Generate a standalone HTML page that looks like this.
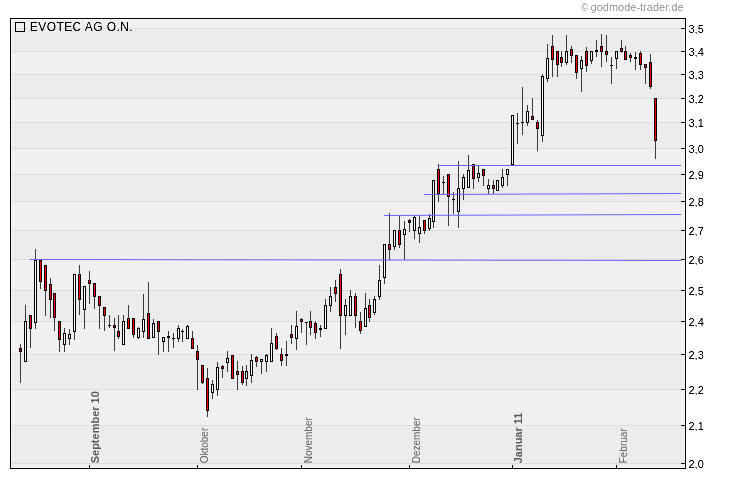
<!DOCTYPE html>
<html><head><meta charset="utf-8"><title>EVOTEC AG O.N.</title>
<style>html,body{margin:0;padding:0;background:#fff;width:730px;height:481px;overflow:hidden}svg{display:block}</style>
</head><body>
<svg width="730" height="481" viewBox="0 0 730 481" shape-rendering="crispEdges">
<rect x="0" y="0" width="730" height="481" fill="#ffffff"/>
<rect x="10" y="18" width="676" height="451" fill="#000"/>
<rect x="11" y="19" width="674" height="449" fill="#f6f6f6"/>
<rect x="12" y="20" width="672" height="8" fill="#f0f0f0"/>
<rect x="12" y="28" width="672" height="23" fill="#ececec"/>
<rect x="12" y="51" width="672" height="23" fill="#f0f0f0"/>
<rect x="12" y="74" width="672" height="24" fill="#ececec"/>
<rect x="12" y="98" width="672" height="24" fill="#f0f0f0"/>
<rect x="12" y="122" width="672" height="26" fill="#ececec"/>
<rect x="12" y="148" width="672" height="26" fill="#f0f0f0"/>
<rect x="12" y="174" width="672" height="27" fill="#ececec"/>
<rect x="12" y="201" width="672" height="29" fill="#f0f0f0"/>
<rect x="12" y="230" width="672" height="29" fill="#ececec"/>
<rect x="12" y="259" width="672" height="31" fill="#f0f0f0"/>
<rect x="12" y="290" width="672" height="31" fill="#ececec"/>
<rect x="12" y="321" width="672" height="33" fill="#f0f0f0"/>
<rect x="12" y="354" width="672" height="35" fill="#ececec"/>
<rect x="12" y="389" width="672" height="36" fill="#f0f0f0"/>
<rect x="12" y="425" width="672" height="38" fill="#ececec"/>
<rect x="12" y="463" width="672" height="4" fill="#f0f0f0"/>
<rect x="12" y="28" width="669" height="1" fill="#dcdcdc"/>
<rect x="12" y="51" width="669" height="1" fill="#dcdcdc"/>
<rect x="12" y="74" width="669" height="1" fill="#dcdcdc"/>
<rect x="12" y="98" width="669" height="1" fill="#dcdcdc"/>
<rect x="12" y="122" width="669" height="1" fill="#dcdcdc"/>
<rect x="12" y="148" width="669" height="1" fill="#dcdcdc"/>
<rect x="12" y="174" width="669" height="1" fill="#dcdcdc"/>
<rect x="12" y="201" width="669" height="1" fill="#dcdcdc"/>
<rect x="12" y="230" width="669" height="1" fill="#dcdcdc"/>
<rect x="12" y="259" width="669" height="1" fill="#dcdcdc"/>
<rect x="12" y="290" width="669" height="1" fill="#dcdcdc"/>
<rect x="12" y="321" width="669" height="1" fill="#dcdcdc"/>
<rect x="12" y="354" width="669" height="1" fill="#dcdcdc"/>
<rect x="12" y="389" width="669" height="1" fill="#dcdcdc"/>
<rect x="12" y="425" width="669" height="1" fill="#dcdcdc"/>
<rect x="12" y="463" width="669" height="1" fill="#dcdcdc"/>
<rect x="681" y="28" width="4" height="1" fill="#000"/>
<rect x="681" y="51" width="4" height="1" fill="#000"/>
<rect x="681" y="74" width="4" height="1" fill="#000"/>
<rect x="681" y="98" width="4" height="1" fill="#000"/>
<rect x="681" y="122" width="4" height="1" fill="#000"/>
<rect x="681" y="148" width="4" height="1" fill="#000"/>
<rect x="681" y="174" width="4" height="1" fill="#000"/>
<rect x="681" y="201" width="4" height="1" fill="#000"/>
<rect x="681" y="230" width="4" height="1" fill="#000"/>
<rect x="681" y="259" width="4" height="1" fill="#000"/>
<rect x="681" y="290" width="4" height="1" fill="#000"/>
<rect x="681" y="321" width="4" height="1" fill="#000"/>
<rect x="681" y="354" width="4" height="1" fill="#000"/>
<rect x="681" y="389" width="4" height="1" fill="#000"/>
<rect x="681" y="425" width="4" height="1" fill="#000"/>
<rect x="681" y="463" width="4" height="1" fill="#000"/>
<rect x="89" y="465" width="1" height="3" fill="#000"/>
<rect x="197" y="465" width="1" height="3" fill="#000"/>
<rect x="301" y="465" width="1" height="3" fill="#000"/>
<rect x="409" y="465" width="1" height="3" fill="#000"/>
<rect x="512" y="465" width="1" height="3" fill="#000"/>
<rect x="616" y="465" width="1" height="3" fill="#000"/>
<rect x="20" y="344" width="1" height="4" fill="#3a3a3a"/>
<rect x="20" y="352" width="1" height="31" fill="#3a3a3a"/>
<rect x="19" y="348" width="3" height="4" fill="#000"/>
<rect x="20" y="349" width="1" height="2" fill="#ff0000"/>
<rect x="25" y="305" width="1" height="16" fill="#3a3a3a"/>
<rect x="24" y="321" width="3" height="41" fill="#000"/>
<rect x="25" y="322" width="1" height="39" fill="#ffffff"/>
<rect x="30" y="329" width="1" height="19" fill="#3a3a3a"/>
<rect x="29" y="315" width="3" height="14" fill="#000"/>
<rect x="30" y="316" width="1" height="12" fill="#ff0000"/>
<rect x="35" y="249" width="1" height="11" fill="#3a3a3a"/>
<rect x="35" y="323" width="1" height="6" fill="#3a3a3a"/>
<rect x="34" y="260" width="3" height="63" fill="#000"/>
<rect x="35" y="261" width="1" height="61" fill="#ffffff"/>
<rect x="40" y="282" width="1" height="7" fill="#3a3a3a"/>
<rect x="39" y="260" width="3" height="22" fill="#000"/>
<rect x="40" y="261" width="1" height="20" fill="#ff0000"/>
<rect x="45" y="291" width="1" height="25" fill="#3a3a3a"/>
<rect x="44" y="265" width="3" height="26" fill="#000"/>
<rect x="45" y="266" width="1" height="24" fill="#ff0000"/>
<rect x="50" y="278" width="1" height="6" fill="#3a3a3a"/>
<rect x="50" y="300" width="1" height="18" fill="#3a3a3a"/>
<rect x="49" y="284" width="3" height="16" fill="#000"/>
<rect x="50" y="285" width="1" height="14" fill="#ff0000"/>
<rect x="54" y="318" width="1" height="13" fill="#3a3a3a"/>
<rect x="53" y="293" width="3" height="25" fill="#000"/>
<rect x="54" y="294" width="1" height="23" fill="#ff0000"/>
<rect x="59" y="340" width="1" height="12" fill="#3a3a3a"/>
<rect x="58" y="321" width="3" height="19" fill="#000"/>
<rect x="59" y="322" width="1" height="17" fill="#ff0000"/>
<rect x="64" y="328" width="1" height="5" fill="#3a3a3a"/>
<rect x="64" y="345" width="1" height="7" fill="#3a3a3a"/>
<rect x="63" y="333" width="3" height="12" fill="#000"/>
<rect x="64" y="334" width="1" height="10" fill="#ffffff"/>
<rect x="69" y="329" width="1" height="5" fill="#3a3a3a"/>
<rect x="69" y="339" width="1" height="6" fill="#3a3a3a"/>
<rect x="68" y="334" width="3" height="5" fill="#000"/>
<rect x="69" y="335" width="1" height="3" fill="#ffffff"/>
<rect x="74" y="332" width="1" height="8" fill="#3a3a3a"/>
<rect x="73" y="274" width="3" height="58" fill="#000"/>
<rect x="74" y="275" width="1" height="56" fill="#ffffff"/>
<rect x="79" y="265" width="1" height="9" fill="#3a3a3a"/>
<rect x="79" y="300" width="1" height="15" fill="#3a3a3a"/>
<rect x="78" y="274" width="3" height="26" fill="#000"/>
<rect x="79" y="275" width="1" height="24" fill="#ff0000"/>
<rect x="84" y="310" width="1" height="19" fill="#3a3a3a"/>
<rect x="83" y="286" width="3" height="24" fill="#000"/>
<rect x="84" y="287" width="1" height="22" fill="#ffffff"/>
<rect x="89" y="271" width="1" height="9" fill="#3a3a3a"/>
<rect x="89" y="284" width="1" height="20" fill="#3a3a3a"/>
<rect x="88" y="280" width="3" height="4" fill="#000"/>
<rect x="89" y="281" width="1" height="2" fill="#ff0000"/>
<rect x="94" y="297" width="1" height="12" fill="#3a3a3a"/>
<rect x="93" y="283" width="3" height="14" fill="#000"/>
<rect x="94" y="284" width="1" height="12" fill="#ff0000"/>
<rect x="99" y="306" width="1" height="23" fill="#3a3a3a"/>
<rect x="98" y="296" width="3" height="10" fill="#000"/>
<rect x="99" y="297" width="1" height="8" fill="#ff0000"/>
<rect x="104" y="316" width="1" height="15" fill="#3a3a3a"/>
<rect x="103" y="307" width="3" height="9" fill="#000"/>
<rect x="104" y="308" width="1" height="7" fill="#ff0000"/>
<rect x="109" y="315" width="1" height="13" fill="#3a3a3a"/>
<rect x="108" y="325" width="3" height="1" fill="#000"/>
<rect x="114" y="318" width="1" height="7" fill="#3a3a3a"/>
<rect x="114" y="328" width="1" height="23" fill="#3a3a3a"/>
<rect x="113" y="325" width="3" height="3" fill="#000"/>
<rect x="114" y="326" width="1" height="1" fill="#ff0000"/>
<rect x="118" y="315" width="1" height="16" fill="#3a3a3a"/>
<rect x="118" y="337" width="1" height="2" fill="#3a3a3a"/>
<rect x="117" y="331" width="3" height="6" fill="#000"/>
<rect x="118" y="332" width="1" height="4" fill="#ff0000"/>
<rect x="123" y="315" width="1" height="6" fill="#3a3a3a"/>
<rect x="122" y="321" width="3" height="24" fill="#000"/>
<rect x="123" y="322" width="1" height="22" fill="#ffffff"/>
<rect x="128" y="305" width="1" height="13" fill="#3a3a3a"/>
<rect x="127" y="318" width="3" height="11" fill="#000"/>
<rect x="128" y="319" width="1" height="9" fill="#ff0000"/>
<rect x="133" y="335" width="1" height="3" fill="#3a3a3a"/>
<rect x="132" y="318" width="3" height="17" fill="#000"/>
<rect x="133" y="319" width="1" height="15" fill="#ff0000"/>
<rect x="138" y="327" width="1" height="1" fill="#3a3a3a"/>
<rect x="138" y="338" width="1" height="1" fill="#3a3a3a"/>
<rect x="137" y="328" width="3" height="10" fill="#000"/>
<rect x="138" y="329" width="1" height="8" fill="#ffffff"/>
<rect x="143" y="294" width="1" height="25" fill="#3a3a3a"/>
<rect x="143" y="332" width="1" height="6" fill="#3a3a3a"/>
<rect x="142" y="319" width="3" height="13" fill="#000"/>
<rect x="143" y="320" width="1" height="11" fill="#ffffff"/>
<rect x="148" y="282" width="1" height="31" fill="#3a3a3a"/>
<rect x="147" y="313" width="3" height="26" fill="#000"/>
<rect x="148" y="314" width="1" height="24" fill="#ff0000"/>
<rect x="153" y="319" width="1" height="4" fill="#3a3a3a"/>
<rect x="152" y="323" width="3" height="15" fill="#000"/>
<rect x="153" y="324" width="1" height="13" fill="#ffffff"/>
<rect x="158" y="332" width="1" height="23" fill="#3a3a3a"/>
<rect x="157" y="321" width="3" height="11" fill="#000"/>
<rect x="158" y="322" width="1" height="9" fill="#ff0000"/>
<rect x="163" y="342" width="1" height="10" fill="#3a3a3a"/>
<rect x="162" y="337" width="3" height="5" fill="#000"/>
<rect x="163" y="338" width="1" height="3" fill="#ffffff"/>
<rect x="168" y="331" width="1" height="5" fill="#3a3a3a"/>
<rect x="168" y="338" width="1" height="14" fill="#3a3a3a"/>
<rect x="167" y="336" width="3" height="2" fill="#000"/>
<rect x="173" y="333" width="1" height="15" fill="#3a3a3a"/>
<rect x="172" y="338" width="3" height="1" fill="#000"/>
<rect x="178" y="325" width="1" height="3" fill="#3a3a3a"/>
<rect x="178" y="339" width="1" height="3" fill="#3a3a3a"/>
<rect x="177" y="328" width="3" height="11" fill="#000"/>
<rect x="178" y="329" width="1" height="9" fill="#ffffff"/>
<rect x="182" y="329" width="1" height="13" fill="#3a3a3a"/>
<rect x="181" y="331" width="3" height="1" fill="#000"/>
<rect x="187" y="325" width="1" height="1" fill="#3a3a3a"/>
<rect x="186" y="326" width="3" height="13" fill="#000"/>
<rect x="187" y="327" width="1" height="11" fill="#ffffff"/>
<rect x="192" y="331" width="1" height="7" fill="#3a3a3a"/>
<rect x="191" y="338" width="3" height="11" fill="#000"/>
<rect x="192" y="339" width="1" height="9" fill="#ff0000"/>
<rect x="197" y="345" width="1" height="6" fill="#3a3a3a"/>
<rect x="197" y="360" width="1" height="30" fill="#3a3a3a"/>
<rect x="196" y="351" width="3" height="9" fill="#000"/>
<rect x="197" y="352" width="1" height="7" fill="#ff0000"/>
<rect x="202" y="383" width="1" height="1" fill="#3a3a3a"/>
<rect x="201" y="365" width="3" height="18" fill="#000"/>
<rect x="202" y="366" width="1" height="16" fill="#ff0000"/>
<rect x="207" y="368" width="1" height="10" fill="#3a3a3a"/>
<rect x="207" y="411" width="1" height="6" fill="#3a3a3a"/>
<rect x="206" y="378" width="3" height="33" fill="#000"/>
<rect x="207" y="379" width="1" height="31" fill="#ff0000"/>
<rect x="212" y="380" width="1" height="4" fill="#3a3a3a"/>
<rect x="212" y="393" width="1" height="6" fill="#3a3a3a"/>
<rect x="211" y="384" width="3" height="9" fill="#000"/>
<rect x="212" y="385" width="1" height="7" fill="#ffffff"/>
<rect x="217" y="362" width="1" height="5" fill="#3a3a3a"/>
<rect x="217" y="390" width="1" height="6" fill="#3a3a3a"/>
<rect x="216" y="367" width="3" height="23" fill="#000"/>
<rect x="217" y="368" width="1" height="21" fill="#ffffff"/>
<rect x="222" y="365" width="1" height="1" fill="#3a3a3a"/>
<rect x="222" y="369" width="1" height="9" fill="#3a3a3a"/>
<rect x="221" y="366" width="3" height="3" fill="#000"/>
<rect x="222" y="367" width="1" height="1" fill="#ff0000"/>
<rect x="227" y="351" width="1" height="7" fill="#3a3a3a"/>
<rect x="227" y="363" width="1" height="9" fill="#3a3a3a"/>
<rect x="226" y="358" width="3" height="5" fill="#000"/>
<rect x="227" y="359" width="1" height="3" fill="#ffffff"/>
<rect x="231" y="355" width="3" height="24" fill="#000"/>
<rect x="232" y="356" width="1" height="22" fill="#ff0000"/>
<rect x="237" y="361" width="1" height="10" fill="#3a3a3a"/>
<rect x="237" y="375" width="1" height="15" fill="#3a3a3a"/>
<rect x="236" y="371" width="3" height="4" fill="#000"/>
<rect x="237" y="372" width="1" height="2" fill="#ff0000"/>
<rect x="242" y="366" width="1" height="5" fill="#3a3a3a"/>
<rect x="242" y="383" width="1" height="2" fill="#3a3a3a"/>
<rect x="241" y="371" width="3" height="12" fill="#000"/>
<rect x="242" y="372" width="1" height="10" fill="#ff0000"/>
<rect x="246" y="365" width="1" height="6" fill="#3a3a3a"/>
<rect x="246" y="379" width="1" height="7" fill="#3a3a3a"/>
<rect x="245" y="371" width="3" height="8" fill="#000"/>
<rect x="246" y="372" width="1" height="6" fill="#ffffff"/>
<rect x="251" y="354" width="1" height="6" fill="#3a3a3a"/>
<rect x="251" y="376" width="1" height="7" fill="#3a3a3a"/>
<rect x="250" y="360" width="3" height="16" fill="#000"/>
<rect x="251" y="361" width="1" height="14" fill="#ffffff"/>
<rect x="256" y="356" width="1" height="1" fill="#3a3a3a"/>
<rect x="256" y="362" width="1" height="5" fill="#3a3a3a"/>
<rect x="255" y="357" width="3" height="5" fill="#000"/>
<rect x="256" y="358" width="1" height="3" fill="#ff0000"/>
<rect x="261" y="362" width="1" height="12" fill="#3a3a3a"/>
<rect x="260" y="359" width="3" height="3" fill="#000"/>
<rect x="261" y="360" width="1" height="1" fill="#ffffff"/>
<rect x="266" y="354" width="1" height="1" fill="#3a3a3a"/>
<rect x="266" y="362" width="1" height="10" fill="#3a3a3a"/>
<rect x="265" y="355" width="3" height="7" fill="#000"/>
<rect x="266" y="356" width="1" height="5" fill="#ffffff"/>
<rect x="271" y="328" width="1" height="15" fill="#3a3a3a"/>
<rect x="270" y="343" width="3" height="19" fill="#000"/>
<rect x="271" y="344" width="1" height="17" fill="#ffffff"/>
<rect x="276" y="333" width="1" height="3" fill="#3a3a3a"/>
<rect x="276" y="349" width="1" height="1" fill="#3a3a3a"/>
<rect x="275" y="336" width="3" height="13" fill="#000"/>
<rect x="276" y="337" width="1" height="11" fill="#ff0000"/>
<rect x="281" y="348" width="1" height="6" fill="#3a3a3a"/>
<rect x="281" y="361" width="1" height="5" fill="#3a3a3a"/>
<rect x="280" y="354" width="3" height="7" fill="#000"/>
<rect x="281" y="355" width="1" height="5" fill="#ff0000"/>
<rect x="286" y="341" width="1" height="13" fill="#3a3a3a"/>
<rect x="286" y="356" width="1" height="10" fill="#3a3a3a"/>
<rect x="285" y="354" width="3" height="2" fill="#000"/>
<rect x="291" y="325" width="1" height="9" fill="#3a3a3a"/>
<rect x="291" y="338" width="1" height="6" fill="#3a3a3a"/>
<rect x="290" y="334" width="3" height="4" fill="#000"/>
<rect x="291" y="335" width="1" height="2" fill="#ff0000"/>
<rect x="296" y="311" width="1" height="15" fill="#3a3a3a"/>
<rect x="296" y="339" width="1" height="11" fill="#3a3a3a"/>
<rect x="295" y="326" width="3" height="13" fill="#000"/>
<rect x="296" y="327" width="1" height="11" fill="#ffffff"/>
<rect x="301" y="318" width="1" height="1" fill="#3a3a3a"/>
<rect x="301" y="322" width="1" height="11" fill="#3a3a3a"/>
<rect x="300" y="319" width="3" height="3" fill="#000"/>
<rect x="301" y="320" width="1" height="1" fill="#ff0000"/>
<rect x="306" y="322" width="1" height="23" fill="#3a3a3a"/>
<rect x="305" y="322" width="3" height="1" fill="#000"/>
<rect x="310" y="311" width="1" height="10" fill="#3a3a3a"/>
<rect x="310" y="328" width="1" height="7" fill="#3a3a3a"/>
<rect x="309" y="321" width="3" height="7" fill="#000"/>
<rect x="310" y="322" width="1" height="5" fill="#ff0000"/>
<rect x="315" y="321" width="1" height="2" fill="#3a3a3a"/>
<rect x="315" y="333" width="1" height="6" fill="#3a3a3a"/>
<rect x="314" y="323" width="3" height="10" fill="#000"/>
<rect x="315" y="324" width="1" height="8" fill="#ff0000"/>
<rect x="320" y="325" width="1" height="3" fill="#3a3a3a"/>
<rect x="320" y="330" width="1" height="7" fill="#3a3a3a"/>
<rect x="319" y="328" width="3" height="2" fill="#000"/>
<rect x="325" y="299" width="1" height="6" fill="#3a3a3a"/>
<rect x="324" y="305" width="3" height="24" fill="#000"/>
<rect x="325" y="306" width="1" height="22" fill="#ffffff"/>
<rect x="330" y="287" width="1" height="9" fill="#3a3a3a"/>
<rect x="330" y="306" width="1" height="6" fill="#3a3a3a"/>
<rect x="329" y="296" width="3" height="10" fill="#000"/>
<rect x="330" y="297" width="1" height="8" fill="#ffffff"/>
<rect x="335" y="280" width="1" height="7" fill="#3a3a3a"/>
<rect x="335" y="294" width="1" height="8" fill="#3a3a3a"/>
<rect x="334" y="287" width="3" height="7" fill="#000"/>
<rect x="335" y="288" width="1" height="5" fill="#ff0000"/>
<rect x="340" y="269" width="1" height="5" fill="#3a3a3a"/>
<rect x="340" y="316" width="1" height="33" fill="#3a3a3a"/>
<rect x="339" y="274" width="3" height="42" fill="#000"/>
<rect x="340" y="275" width="1" height="40" fill="#ff0000"/>
<rect x="345" y="299" width="1" height="6" fill="#3a3a3a"/>
<rect x="345" y="316" width="1" height="19" fill="#3a3a3a"/>
<rect x="344" y="305" width="3" height="11" fill="#000"/>
<rect x="345" y="306" width="1" height="9" fill="#ffffff"/>
<rect x="350" y="290" width="1" height="6" fill="#3a3a3a"/>
<rect x="349" y="296" width="3" height="20" fill="#000"/>
<rect x="350" y="297" width="1" height="18" fill="#ffffff"/>
<rect x="355" y="293" width="1" height="3" fill="#3a3a3a"/>
<rect x="355" y="316" width="1" height="12" fill="#3a3a3a"/>
<rect x="354" y="296" width="3" height="20" fill="#000"/>
<rect x="355" y="297" width="1" height="18" fill="#ff0000"/>
<rect x="360" y="312" width="1" height="9" fill="#3a3a3a"/>
<rect x="360" y="331" width="1" height="3" fill="#3a3a3a"/>
<rect x="359" y="321" width="3" height="10" fill="#000"/>
<rect x="360" y="322" width="1" height="8" fill="#ff0000"/>
<rect x="365" y="293" width="1" height="15" fill="#3a3a3a"/>
<rect x="364" y="308" width="3" height="19" fill="#000"/>
<rect x="365" y="309" width="1" height="17" fill="#ffffff"/>
<rect x="369" y="299" width="1" height="6" fill="#3a3a3a"/>
<rect x="369" y="318" width="1" height="4" fill="#3a3a3a"/>
<rect x="368" y="305" width="3" height="13" fill="#000"/>
<rect x="369" y="306" width="1" height="11" fill="#ff0000"/>
<rect x="374" y="296" width="1" height="3" fill="#3a3a3a"/>
<rect x="374" y="313" width="1" height="2" fill="#3a3a3a"/>
<rect x="373" y="299" width="3" height="14" fill="#000"/>
<rect x="374" y="300" width="1" height="12" fill="#ffffff"/>
<rect x="379" y="265" width="1" height="15" fill="#3a3a3a"/>
<rect x="379" y="297" width="1" height="3" fill="#3a3a3a"/>
<rect x="378" y="280" width="3" height="17" fill="#000"/>
<rect x="379" y="281" width="1" height="15" fill="#ffffff"/>
<rect x="384" y="278" width="1" height="6" fill="#3a3a3a"/>
<rect x="383" y="244" width="3" height="34" fill="#000"/>
<rect x="384" y="245" width="1" height="32" fill="#ffffff"/>
<rect x="389" y="213" width="1" height="31" fill="#3a3a3a"/>
<rect x="389" y="250" width="1" height="10" fill="#3a3a3a"/>
<rect x="388" y="244" width="3" height="6" fill="#000"/>
<rect x="389" y="245" width="1" height="4" fill="#ff0000"/>
<rect x="394" y="247" width="1" height="3" fill="#3a3a3a"/>
<rect x="393" y="230" width="3" height="17" fill="#000"/>
<rect x="394" y="231" width="1" height="15" fill="#ffffff"/>
<rect x="399" y="216" width="1" height="14" fill="#3a3a3a"/>
<rect x="399" y="245" width="1" height="3" fill="#3a3a3a"/>
<rect x="398" y="230" width="3" height="15" fill="#000"/>
<rect x="399" y="231" width="1" height="13" fill="#ff0000"/>
<rect x="404" y="221" width="1" height="8" fill="#3a3a3a"/>
<rect x="404" y="235" width="1" height="25" fill="#3a3a3a"/>
<rect x="403" y="229" width="3" height="6" fill="#000"/>
<rect x="404" y="230" width="1" height="4" fill="#ffffff"/>
<rect x="409" y="219" width="1" height="1" fill="#3a3a3a"/>
<rect x="409" y="223" width="1" height="9" fill="#3a3a3a"/>
<rect x="408" y="220" width="3" height="3" fill="#000"/>
<rect x="409" y="221" width="1" height="1" fill="#ff0000"/>
<rect x="414" y="216" width="1" height="1" fill="#3a3a3a"/>
<rect x="414" y="231" width="1" height="8" fill="#3a3a3a"/>
<rect x="413" y="217" width="3" height="14" fill="#000"/>
<rect x="414" y="218" width="1" height="12" fill="#ffffff"/>
<rect x="419" y="216" width="1" height="11" fill="#3a3a3a"/>
<rect x="419" y="234" width="1" height="9" fill="#3a3a3a"/>
<rect x="418" y="227" width="3" height="7" fill="#000"/>
<rect x="419" y="228" width="1" height="5" fill="#ffffff"/>
<rect x="424" y="231" width="1" height="3" fill="#3a3a3a"/>
<rect x="423" y="220" width="3" height="11" fill="#000"/>
<rect x="424" y="221" width="1" height="9" fill="#ff0000"/>
<rect x="429" y="214" width="1" height="4" fill="#3a3a3a"/>
<rect x="429" y="229" width="1" height="2" fill="#3a3a3a"/>
<rect x="428" y="218" width="3" height="11" fill="#000"/>
<rect x="429" y="219" width="1" height="9" fill="#ffffff"/>
<rect x="433" y="222" width="1" height="6" fill="#3a3a3a"/>
<rect x="432" y="180" width="3" height="42" fill="#000"/>
<rect x="433" y="181" width="1" height="40" fill="#ffffff"/>
<rect x="438" y="164" width="1" height="5" fill="#3a3a3a"/>
<rect x="438" y="194" width="1" height="8" fill="#3a3a3a"/>
<rect x="437" y="169" width="3" height="25" fill="#000"/>
<rect x="438" y="170" width="1" height="23" fill="#ff0000"/>
<rect x="443" y="176" width="1" height="18" fill="#3a3a3a"/>
<rect x="442" y="182" width="3" height="1" fill="#000"/>
<rect x="448" y="197" width="1" height="29" fill="#3a3a3a"/>
<rect x="447" y="174" width="3" height="23" fill="#000"/>
<rect x="448" y="175" width="1" height="21" fill="#ff0000"/>
<rect x="453" y="192" width="1" height="22" fill="#3a3a3a"/>
<rect x="452" y="199" width="3" height="1" fill="#000"/>
<rect x="458" y="161" width="1" height="27" fill="#3a3a3a"/>
<rect x="458" y="212" width="1" height="16" fill="#3a3a3a"/>
<rect x="457" y="188" width="3" height="24" fill="#000"/>
<rect x="458" y="189" width="1" height="22" fill="#ffffff"/>
<rect x="463" y="174" width="1" height="3" fill="#3a3a3a"/>
<rect x="463" y="189" width="1" height="11" fill="#3a3a3a"/>
<rect x="462" y="177" width="3" height="12" fill="#000"/>
<rect x="463" y="178" width="1" height="10" fill="#ffffff"/>
<rect x="468" y="155" width="1" height="15" fill="#3a3a3a"/>
<rect x="467" y="170" width="3" height="18" fill="#000"/>
<rect x="468" y="171" width="1" height="16" fill="#ffffff"/>
<rect x="473" y="179" width="1" height="10" fill="#3a3a3a"/>
<rect x="472" y="164" width="3" height="15" fill="#000"/>
<rect x="473" y="165" width="1" height="13" fill="#ff0000"/>
<rect x="478" y="166" width="1" height="7" fill="#3a3a3a"/>
<rect x="478" y="178" width="1" height="4" fill="#3a3a3a"/>
<rect x="477" y="173" width="3" height="5" fill="#000"/>
<rect x="478" y="174" width="1" height="3" fill="#ffffff"/>
<rect x="483" y="176" width="1" height="10" fill="#3a3a3a"/>
<rect x="482" y="169" width="3" height="7" fill="#000"/>
<rect x="483" y="170" width="1" height="5" fill="#ff0000"/>
<rect x="488" y="179" width="1" height="6" fill="#3a3a3a"/>
<rect x="488" y="189" width="1" height="5" fill="#3a3a3a"/>
<rect x="487" y="185" width="3" height="4" fill="#000"/>
<rect x="488" y="186" width="1" height="2" fill="#ffffff"/>
<rect x="493" y="180" width="1" height="5" fill="#3a3a3a"/>
<rect x="493" y="189" width="1" height="5" fill="#3a3a3a"/>
<rect x="492" y="185" width="3" height="4" fill="#000"/>
<rect x="493" y="186" width="1" height="2" fill="#ff0000"/>
<rect x="496" y="180" width="3" height="11" fill="#000"/>
<rect x="497" y="181" width="1" height="9" fill="#ffffff"/>
<rect x="502" y="169" width="1" height="8" fill="#3a3a3a"/>
<rect x="502" y="186" width="1" height="2" fill="#3a3a3a"/>
<rect x="501" y="177" width="3" height="9" fill="#000"/>
<rect x="502" y="178" width="1" height="7" fill="#ffffff"/>
<rect x="507" y="175" width="1" height="11" fill="#3a3a3a"/>
<rect x="506" y="169" width="3" height="6" fill="#000"/>
<rect x="507" y="170" width="1" height="4" fill="#ffffff"/>
<rect x="511" y="115" width="3" height="50" fill="#000"/>
<rect x="512" y="116" width="1" height="48" fill="#ffffff"/>
<rect x="517" y="113" width="1" height="31" fill="#3a3a3a"/>
<rect x="516" y="123" width="3" height="1" fill="#000"/>
<rect x="522" y="87" width="1" height="48" fill="#3a3a3a"/>
<rect x="521" y="122" width="3" height="1" fill="#000"/>
<rect x="527" y="105" width="1" height="6" fill="#3a3a3a"/>
<rect x="527" y="123" width="1" height="3" fill="#3a3a3a"/>
<rect x="526" y="111" width="3" height="12" fill="#000"/>
<rect x="527" y="112" width="1" height="10" fill="#ffffff"/>
<rect x="532" y="98" width="1" height="18" fill="#3a3a3a"/>
<rect x="531" y="116" width="3" height="4" fill="#000"/>
<rect x="532" y="117" width="1" height="2" fill="#ff0000"/>
<rect x="537" y="120" width="1" height="2" fill="#3a3a3a"/>
<rect x="537" y="129" width="1" height="22" fill="#3a3a3a"/>
<rect x="536" y="122" width="3" height="7" fill="#000"/>
<rect x="537" y="123" width="1" height="5" fill="#ff0000"/>
<rect x="542" y="74" width="1" height="2" fill="#3a3a3a"/>
<rect x="542" y="136" width="1" height="6" fill="#3a3a3a"/>
<rect x="541" y="76" width="3" height="60" fill="#000"/>
<rect x="542" y="77" width="1" height="58" fill="#ffffff"/>
<rect x="547" y="44" width="1" height="14" fill="#3a3a3a"/>
<rect x="547" y="79" width="1" height="3" fill="#3a3a3a"/>
<rect x="546" y="58" width="3" height="21" fill="#000"/>
<rect x="547" y="59" width="1" height="19" fill="#ffffff"/>
<rect x="552" y="35" width="1" height="11" fill="#3a3a3a"/>
<rect x="552" y="60" width="1" height="17" fill="#3a3a3a"/>
<rect x="551" y="46" width="3" height="14" fill="#000"/>
<rect x="552" y="47" width="1" height="12" fill="#ff0000"/>
<rect x="557" y="65" width="1" height="12" fill="#3a3a3a"/>
<rect x="556" y="51" width="3" height="14" fill="#000"/>
<rect x="557" y="52" width="1" height="12" fill="#ff0000"/>
<rect x="561" y="51" width="1" height="6" fill="#3a3a3a"/>
<rect x="561" y="63" width="1" height="4" fill="#3a3a3a"/>
<rect x="560" y="57" width="3" height="6" fill="#000"/>
<rect x="561" y="58" width="1" height="4" fill="#ff0000"/>
<rect x="566" y="35" width="1" height="16" fill="#3a3a3a"/>
<rect x="566" y="63" width="1" height="2" fill="#3a3a3a"/>
<rect x="565" y="51" width="3" height="12" fill="#000"/>
<rect x="566" y="52" width="1" height="10" fill="#ffffff"/>
<rect x="571" y="46" width="1" height="3" fill="#3a3a3a"/>
<rect x="571" y="56" width="1" height="7" fill="#3a3a3a"/>
<rect x="570" y="49" width="3" height="7" fill="#000"/>
<rect x="571" y="50" width="1" height="5" fill="#ff0000"/>
<rect x="576" y="73" width="1" height="6" fill="#3a3a3a"/>
<rect x="575" y="55" width="3" height="18" fill="#000"/>
<rect x="576" y="56" width="1" height="16" fill="#ff0000"/>
<rect x="581" y="56" width="1" height="4" fill="#3a3a3a"/>
<rect x="581" y="69" width="1" height="23" fill="#3a3a3a"/>
<rect x="580" y="60" width="3" height="9" fill="#000"/>
<rect x="581" y="61" width="1" height="7" fill="#ffffff"/>
<rect x="586" y="47" width="1" height="4" fill="#3a3a3a"/>
<rect x="586" y="66" width="1" height="6" fill="#3a3a3a"/>
<rect x="585" y="51" width="3" height="15" fill="#000"/>
<rect x="586" y="52" width="1" height="13" fill="#ff0000"/>
<rect x="591" y="61" width="1" height="3" fill="#3a3a3a"/>
<rect x="590" y="51" width="3" height="10" fill="#000"/>
<rect x="591" y="52" width="1" height="8" fill="#ffffff"/>
<rect x="596" y="40" width="1" height="10" fill="#3a3a3a"/>
<rect x="596" y="52" width="1" height="5" fill="#3a3a3a"/>
<rect x="595" y="50" width="3" height="2" fill="#000"/>
<rect x="601" y="34" width="1" height="12" fill="#3a3a3a"/>
<rect x="601" y="52" width="1" height="15" fill="#3a3a3a"/>
<rect x="600" y="46" width="3" height="6" fill="#000"/>
<rect x="601" y="47" width="1" height="4" fill="#ff0000"/>
<rect x="606" y="35" width="1" height="16" fill="#3a3a3a"/>
<rect x="606" y="55" width="1" height="7" fill="#3a3a3a"/>
<rect x="605" y="51" width="3" height="4" fill="#000"/>
<rect x="606" y="52" width="1" height="2" fill="#ff0000"/>
<rect x="611" y="57" width="1" height="27" fill="#3a3a3a"/>
<rect x="610" y="65" width="3" height="1" fill="#000"/>
<rect x="616" y="59" width="1" height="10" fill="#3a3a3a"/>
<rect x="615" y="51" width="3" height="8" fill="#000"/>
<rect x="616" y="52" width="1" height="6" fill="#ffffff"/>
<rect x="621" y="40" width="1" height="8" fill="#3a3a3a"/>
<rect x="621" y="52" width="1" height="1" fill="#3a3a3a"/>
<rect x="620" y="48" width="3" height="4" fill="#000"/>
<rect x="621" y="49" width="1" height="2" fill="#ff0000"/>
<rect x="625" y="46" width="1" height="5" fill="#3a3a3a"/>
<rect x="624" y="51" width="3" height="9" fill="#000"/>
<rect x="625" y="52" width="1" height="7" fill="#ff0000"/>
<rect x="630" y="53" width="1" height="2" fill="#3a3a3a"/>
<rect x="630" y="58" width="1" height="4" fill="#3a3a3a"/>
<rect x="629" y="55" width="3" height="3" fill="#000"/>
<rect x="630" y="56" width="1" height="1" fill="#ff0000"/>
<rect x="635" y="52" width="1" height="5" fill="#3a3a3a"/>
<rect x="635" y="59" width="1" height="11" fill="#3a3a3a"/>
<rect x="634" y="57" width="3" height="2" fill="#000"/>
<rect x="640" y="51" width="1" height="2" fill="#3a3a3a"/>
<rect x="640" y="65" width="1" height="5" fill="#3a3a3a"/>
<rect x="639" y="53" width="3" height="12" fill="#000"/>
<rect x="640" y="54" width="1" height="10" fill="#ff0000"/>
<rect x="645" y="68" width="1" height="16" fill="#3a3a3a"/>
<rect x="644" y="64" width="3" height="4" fill="#000"/>
<rect x="645" y="65" width="1" height="2" fill="#ff0000"/>
<rect x="650" y="54" width="1" height="8" fill="#3a3a3a"/>
<rect x="650" y="87" width="1" height="2" fill="#3a3a3a"/>
<rect x="649" y="62" width="3" height="25" fill="#000"/>
<rect x="650" y="63" width="1" height="23" fill="#ff0000"/>
<rect x="655" y="141" width="1" height="18" fill="#3a3a3a"/>
<rect x="654" y="98" width="3" height="43" fill="#000"/>
<rect x="655" y="99" width="1" height="41" fill="#ff0000"/>
<g shape-rendering="geometricPrecision" stroke="#6565ff" stroke-width="1">
<line x1="30" y1="259.4992" x2="681" y2="260.5008"/>
<line x1="384" y1="215.5017" x2="681" y2="214.4983"/>
<line x1="424" y1="194.5020" x2="681" y2="193.4980"/>
<line x1="438" y1="165.5000" x2="681" y2="165.5000"/>
</g>
<rect x="15.5" y="22.5" width="9" height="9" fill="none" stroke="#000" stroke-width="1"/>
<defs><filter id="th" x="0" y="0" width="100%" height="100%" color-interpolation-filters="sRGB"><feComponentTransfer><feFuncA type="discrete" tableValues="0 1 1"/></feComponentTransfer></filter></defs>
<defs><filter id="sh" x="0" y="0" width="100%" height="100%"><feComponentTransfer><feFuncA type="linear" slope="1.8" intercept="-0.35"/></feComponentTransfer></filter></defs>
<g shape-rendering="auto">
<text x="29.8" y="31" font-family="Liberation Sans, Arial, sans-serif" font-size="12" letter-spacing="0.42" fill="#000" filter="url(#sh)">EVOTEC AG O.N.</text>
<text x="683.5" y="11" text-anchor="end" font-family="Liberation Sans, Arial, sans-serif" font-size="11" fill="#a0a0a0" filter="url(#sh)"><tspan font-size="10" dy="-0.3">©</tspan><tspan dx="2.2" dy="0.3">godmode-trader.de</tspan></text>
<text x="688.5" y="468" font-family="Liberation Sans, Arial, sans-serif" font-size="11" fill="#000" filter="url(#sh)">2,0</text>
<text x="688.5" y="430" font-family="Liberation Sans, Arial, sans-serif" font-size="11" fill="#000" filter="url(#sh)">2,1</text>
<text x="688.5" y="394" font-family="Liberation Sans, Arial, sans-serif" font-size="11" fill="#000" filter="url(#sh)">2,2</text>
<text x="688.5" y="359" font-family="Liberation Sans, Arial, sans-serif" font-size="11" fill="#000" filter="url(#sh)">2,3</text>
<text x="688.5" y="326" font-family="Liberation Sans, Arial, sans-serif" font-size="11" fill="#000" filter="url(#sh)">2,4</text>
<text x="688.5" y="295" font-family="Liberation Sans, Arial, sans-serif" font-size="11" fill="#000" filter="url(#sh)">2,5</text>
<text x="688.5" y="264" font-family="Liberation Sans, Arial, sans-serif" font-size="11" fill="#000" filter="url(#sh)">2,6</text>
<text x="688.5" y="235" font-family="Liberation Sans, Arial, sans-serif" font-size="11" fill="#000" filter="url(#sh)">2,7</text>
<text x="688.5" y="206" font-family="Liberation Sans, Arial, sans-serif" font-size="11" fill="#000" filter="url(#sh)">2,8</text>
<text x="688.5" y="179" font-family="Liberation Sans, Arial, sans-serif" font-size="11" fill="#000" filter="url(#sh)">2,9</text>
<text x="688.5" y="153" font-family="Liberation Sans, Arial, sans-serif" font-size="11" fill="#000" filter="url(#sh)">3,0</text>
<text x="688.5" y="127" font-family="Liberation Sans, Arial, sans-serif" font-size="11" fill="#000" filter="url(#sh)">3,1</text>
<text x="688.5" y="103" font-family="Liberation Sans, Arial, sans-serif" font-size="11" fill="#000" filter="url(#sh)">3,2</text>
<text x="688.5" y="79" font-family="Liberation Sans, Arial, sans-serif" font-size="11" fill="#000" filter="url(#sh)">3,3</text>
<text x="688.5" y="56" font-family="Liberation Sans, Arial, sans-serif" font-size="11" fill="#000" filter="url(#sh)">3,4</text>
<text x="688.5" y="33" font-family="Liberation Sans, Arial, sans-serif" font-size="11" fill="#000" filter="url(#sh)">3,5</text>
<text transform="translate(98.8,463.3) rotate(-90)" font-family="Liberation Sans, Arial, sans-serif" font-size="11" font-weight="bold" fill="#5a5a5a">September 10</text>
<text transform="translate(208.3,463.3) rotate(-90) scale(0.91,1)" font-family="Liberation Sans, Arial, sans-serif" font-size="11" font-weight="normal" fill="#606060">Oktober</text>
<text transform="translate(312.3,463.3) rotate(-90) scale(0.91,1)" font-family="Liberation Sans, Arial, sans-serif" font-size="11" font-weight="normal" fill="#606060">November</text>
<text transform="translate(420.3,463.3) rotate(-90) scale(0.91,1)" font-family="Liberation Sans, Arial, sans-serif" font-size="11" font-weight="normal" fill="#606060">Dezember</text>
<text transform="translate(521.6,463.3) rotate(-90)" font-family="Liberation Sans, Arial, sans-serif" font-size="11" font-weight="bold" fill="#5a5a5a">Januar 11</text>
<text transform="translate(627.3,463.3) rotate(-90) scale(0.91,1)" font-family="Liberation Sans, Arial, sans-serif" font-size="11" font-weight="normal" fill="#606060">Februar</text>
</g>
</svg>
</body></html>
